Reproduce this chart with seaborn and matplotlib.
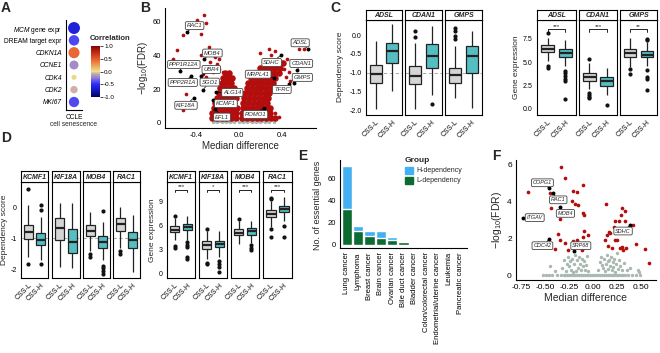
import matplotlib
matplotlib.use('Agg')
import matplotlib.pyplot as plt
import seaborn as sns
import numpy as np
import pandas as pd
from matplotlib.colors import LinearSegmentedColormap, Normalize
from matplotlib.cm import ScalarMappable
from matplotlib.patches import Patch

sns.set_theme(style='white')
plt.rcParams['font.family'] = ['Liberation Sans', 'DejaVu Sans']
plt.rcParams['mathtext.fontset'] = 'custom'
plt.rcParams['mathtext.rm'] = 'Liberation Sans'
plt.rcParams['mathtext.it'] = 'Liberation Sans:italic'

# ---------------- data ----------------
# A: CCLE cell senescence correlations
a_labels = ['$\\it{MCM}$ gene expr', 'DREAM target expr', 'CDKN1A', 'CCNE1', 'CDK4', 'CDK2', 'MKI67']
a_italic = [False, False, True, True, True, True, True]
a_corr = [-0.62, -0.42, 0.45, -0.2, 0.04, -0.08, -0.4]
a_size = [0.82, 0.62, 0.70, 0.45, 0.12, 0.30, 0.60]

# B: volcano (dependency)
b_sig_x = [-0.39, -0.32, -0.30, -0.52, -0.35, -0.57, -0.28, -0.61, -0.49, -0.52, -0.35, -0.25, -0.22,
           -0.18, -0.27, -0.20, -0.33, -0.30, -0.24, -0.22, -0.18, -0.15, 0.34, 0.20, 0.56, 0.61, 0.405,
           0.42, 0.47, 0.48, 0.37, 0.34, 0.45, 0.44, 0.30, 0.28]
b_sig_y = [61.3, 64, 59, 52, 52.5, 43, 45, 37.6, 17, 7.3, 40, 41, 39, 38, 36, 35, 29, 27, 30, 25, 32, 30,
           42.7, 41.5, 43.6, 43.6, 36, 32, 30, 24.7, 3.3, 5.7, 38, 27, 40, 44]
# dense part of the volcano, read row by row
b_cloud_y = [2.5, 5.5, 8.5, 11.5, 14.5, 17.5, 20.5, 23.5, 26.5, 29.5, 32.5, 35.5]
b_cloud_x = [
    [-0.25, -0.205, -0.16, -0.115, -0.07, -0.03, 0.03, 0.075, 0.12, 0.165, 0.21, 0.255, 0.30, 0.34],
    [-0.245, -0.2, -0.155, -0.11, -0.065, -0.025, 0.03, 0.075, 0.12, 0.165, 0.21, 0.255, 0.29],
    [-0.23, -0.185, -0.14, -0.095, -0.05, -0.02, 0.035, 0.08, 0.125, 0.17, 0.215, 0.26, 0.29],
    [-0.22, -0.175, -0.13, -0.085, -0.04, 0.04, 0.085, 0.13, 0.175, 0.22, 0.265],
    [-0.2, -0.155, -0.11, -0.065, -0.03, 0.05, 0.095, 0.14, 0.185, 0.23, 0.275],
    [-0.185, -0.14, -0.095, -0.05, 0.06, 0.105, 0.15, 0.195, 0.24, 0.285],
    [-0.17, -0.125, -0.08, -0.04, 0.075, 0.12, 0.165, 0.21, 0.255, 0.30],
    [-0.16, -0.115, -0.07, 0.09, 0.135, 0.18, 0.225, 0.27, 0.315],
    [-0.145, -0.1, -0.06, 0.115, 0.16, 0.205, 0.25, 0.295, 0.34],
    [-0.13, -0.09, 0.15, 0.195, 0.24, 0.285, 0.33, 0.37],
    [0.2, 0.245, 0.29, 0.335, 0.38],
    [0.26, 0.31, 0.36, 0.41],
]
b_ns_x = [-0.24, -0.2, -0.16, -0.12, -0.08, -0.04, 0.0, 0.04, 0.08, 0.12, 0.16, 0.2, 0.24, 0.28, 0.33,
          -0.22, -0.18, -0.14, -0.1, -0.06, 0.02, 0.06, 0.1, 0.14, 0.18, 0.22, 0.26]
b_ns_y = [0.3] * 15 + [1.0] * 12
b_genes = ['RAC1', 'MOB4', 'PPP1R12A', 'UBR4', 'PPP2R1A', 'SGO1', 'ALG14', 'KIF18A', 'KCMF1', 'EFL1',
           'ROMO1', 'MRPL41', 'SDHC', 'TFRC', 'ADSL', 'CDAN1', 'GMPS']
b_gene_x = [-0.48, -0.32, -0.55, -0.35, -0.44, -0.33, -0.21, -0.42, -0.24, -0.22, 0.23, 0.33, 0.39,
            0.47, 0.64, 0.545, 0.51]
b_gene_y = [54, 38, 30.6, 27.6, 27.6, 19.7, 18, 14.7, 13.3, 8, 8.7, 26.6, 40, 22.7, 44, 31.6, 23.6]
b_lab_x = [-0.41, -0.245, -0.51, -0.255, -0.52, -0.27, -0.06, -0.49, -0.12, -0.155, 0.155, 0.18, 0.305,
           0.40, 0.57, 0.58, 0.59]
b_lab_y = [57.7, 41.4, 34.6, 31.6, 23.9, 24.1, 17.9, 10.3, 11.3, 3.3, 4.8, 28.8, 35.8, 19.7, 47.5, 35.2, 26.9]

# C / D: box summaries: (whisker low, Q1, median, Q3, whisker high, outliers)
groups = ['CSS-L', 'CSS-H']
c_dep = {
    'ADSL': [(-1.97, -1.28, -1.05, -0.80, -0.15, []), (-1.48, -0.75, -0.43, -0.22, 0.30, [])],
    'CDAN1': [(-1.98, -1.30, -1.10, -0.83, -0.20, [0.10, -0.05]), (-1.60, -0.87, -0.55, -0.25, 0.25, [-1.85])],
    'GMPS': [(-1.68, -1.28, -1.07, -0.87, -0.30, [0.18, 0.10, -0.02, -0.10]), (-1.95, -1.00, -0.57, -0.28, 0.12, [])],
}
c_expr = {
    'ADSL': [(5.1, 6.1, 6.45, 6.85, 7.6, [8.1, 4.6, 4.35]), (4.6, 5.56, 5.95, 6.4, 7.4, [4.0, 3.8, 3.5, 3.2, 3.0, 1.1])],
    'CDAN1': [(2.1, 3.0, 3.45, 3.8, 4.86, [5.35, 1.7, 1.5, 1.3, 1.15]), (1.5, 2.5, 3.0, 3.4, 4.4, [0.45])],
    'GMPS': [(4.5, 5.6, 6.0, 6.4, 7.55, [4.25, 3.7]), (4.55, 5.53, 5.8, 6.2, 7.15, [7.5, 7.35, 4.2, 3.4, 3.2, 2.0])],
}
c_stars = ['***', '***', '**']
d_dep = {
    'KCMF1': [(-1.6, -1.02, -0.78, -0.56, 0.09, [0.61, -1.82]), (-1.7, -1.22, -1.05, -0.83, -0.29, [0.1, -0.08, -1.83])],
    'KIF18A': [(-1.92, -1.05, -0.67, -0.35, 0.14, []), (-1.97, -1.46, -1.11, -0.70, 0.15, [])],
    'MOB4': [(-1.41, -0.91, -0.76, -0.56, -0.13, [-1.52, -1.6]), (-1.71, -1.30, -1.11, -0.91, -0.46, [-0.11, -1.9, -1.97, -2.05, -2.17])],
    'RAC1': [(-1.32, -0.76, -0.54, -0.35, 0.03, [-1.42, -1.51]), (-2.08, -1.32, -1.05, -0.80, -0.24, [])],
}
d_expr = {
    'KCMF1': [(4.2, 5.2, 5.45, 5.9, 6.9, [7.2, 3.4, 3.2]), (4.2, 5.37, 5.83, 6.2, 7.2, [3.9, 3.6, 3.3, 2.0, 1.8])],
    'KIF18A': [(1.8, 3.1, 3.55, 4.0, 5.3, [5.6, 1.3, 1.1]), (2.0, 3.25, 3.65, 4.1, 5.3, [1.5, 1.1, 0.8, 0.1])],
    'MOB4': [(3.7, 4.77, 5.05, 5.55, 6.5, [6.8, 6.6]), (3.8, 4.86, 5.25, 5.7, 6.5, [3.5, 3.2, 2.9])],
    'RAC1': [(5.8, 7.05, 7.45, 7.9, 9.1, [9.45, 9.3, 5.5, 4.55]), (6.55, 7.7, 8.1, 8.5, 9.6, [5.9, 4.6])],
}
d_stars = ['***', '*', '***', '***']

# E: essential genes per cancer type
e_cancers = ['Lung cancer', 'Lymphoma', 'Breast cancer', 'Brain cancer', 'Ovarian cancer', 'Bile duct cancer',
             'Bladder cancer', 'Colon/colorectal cancer', 'Endometrial/uterine cancer', 'Leukemia', 'Pancreatic cancer']
e_h = [39, 5, 4, 6, 3, 0, 1, 1, 0, 0, 1]
e_l = [32, 12, 8, 6, 4, 2, 0, 0, 1, 1, 0]

# F: volcano (expression)
f_sig_x = [-0.34, -0.295, -0.68, -0.45, -0.11, -0.21, -0.17, -0.44, -0.19, -0.16, -0.225, -0.11, -0.10,
           -0.35, -0.365, -0.35, -0.21, -0.17, -0.10, -0.06, -0.11, -0.40, -0.295, -0.26, -0.12, -0.09,
           0.13, 0.30, 0.33, 0.29, 0.225, 0.27, 0.33, 0.215, 0.415, 0.16, 0.175, 0.14, 0.12, 0.225, 0.25,
           0.445, 0.155, 0.19, 0.28, 0.31, 0.34, 0.30, 0.54, 0.575]
f_sig_y = [5.87, 5.27, 4.51, 4.49, 4.91, 4.6, 4.51, 3.67, 3.87, 3.84, 4.05, 3.36, 3.27, 3.04, 2.24, 1.91,
           1.87, 1.91, 2.42, 2.18, 2.09, 1.40, 1.76, 1.36, 1.36, 1.73, 3.87, 3.64, 3.51, 3.27, 2.95, 2.93,
           2.93, 2.64, 2.71, 2.36, 2.27, 2.18, 1.91, 1.91, 1.91, 1.69, 1.58, 1.45, 1.49, 1.36, 1.49, 1.55,
           1.40, 0.67]
f_ns_x = [-0.33, -0.3, -0.28, -0.26, -0.25, -0.23, -0.22, -0.2, -0.19, -0.18, -0.17, -0.16, -0.15, -0.14,
          -0.13, -0.12, -0.11, -0.1, -0.09, -0.08, -0.07, -0.06, -0.21, -0.27, -0.24, -0.4, -0.45,
          0.05, 0.07, 0.08, 0.1, 0.11, 0.12, 0.13, 0.14, 0.15, 0.16, 0.17, 0.18, 0.19, 0.2, 0.21, 0.22,
          0.23, 0.24, 0.25, 0.26, 0.27, 0.28, 0.3, 0.32, 0.35, 0.38, 0.47, 0.48, 0.09, 0.15]
f_ns_y = [0.4, 0.8, 0.2, 1.0, 0.5, 0.3, 0.9, 0.6, 1.1, 0.2, 0.8, 0.4, 1.0, 0.6, 0.25, 0.9, 0.5, 0.75,
          0.3, 0.55, 1.05, 0.2, 0.15, 0.6, 0.75, 0.2, 0.5,
          0.3, 0.7, 1.0, 0.4, 0.9, 0.2, 0.6, 1.1, 0.35, 0.8, 0.5, 1.0, 0.25, 0.7, 0.45, 0.9, 0.15, 0.6,
          1.2, 0.35, 0.8, 0.5, 0.25, 0.65, 0.3, 0.4, 0.3, 0.15, 0.55, 0.75]
f_zero_x = [-0.52, -0.49, -0.46, -0.43, -0.38, -0.34, -0.31, -0.29, -0.27, -0.25, -0.23, -0.21, -0.19,
            -0.17, -0.15, -0.13, -0.11, -0.09, -0.07, -0.05, -0.03, -0.01, 0.01, 0.03, 0.05, 0.07, 0.09,
            0.11, 0.13, 0.15, 0.17, 0.19, 0.21, 0.23, 0.25, 0.27, 0.29, 0.31, 0.33, 0.36, 0.40, 0.44, 0.49]
f_genes = ['COPG1', 'RAC1', 'MOB4', 'ITGAV', 'CDC42', 'SRP68', 'SDHC']
f_gene_x = [-0.46, -0.42, -0.35, -0.735, -0.46, -0.20, 0.38]
f_gene_y = [4.73, 4.46, 3.73, 3.09, 1.95, 1.29, 2.71]
f_lab_x = [-0.53, -0.365, -0.29, -0.61, -0.53, -0.13, 0.31]
f_lab_y = [5.03, 4.1, 3.36, 3.13, 1.6, 1.6, 2.4]

# ---------------- style ----------------
RED = '#b30d0d'
GREY_PT = '#a9b9b2'
BOX_L = '#d5d5d5'
BOX_H = '#41cfd6'
H_BLUE = '#44b0f2'
L_GREEN = '#0b6b30'
W, H = 660, 353
TICK = 5
fig = plt.figure(figsize=(6.6, 3.53), dpi=100)


def box(l, t, r, b):
    return fig.add_axes([l / W, 1 - b / H, (r - l) / W, (b - t) / H])


def ftext(x, y, s, **kw):
    fig.text(x / W, 1 - y / H, s, **kw)


def frame(ax, lw=0.8):
    for sp in ax.spines.values():
        sp.set_visible(True)
        sp.set_color('black')
        sp.set_linewidth(lw)
    ax.tick_params(length=2, width=0.6, pad=1, labelsize=TICK, colors='black')


def expand(lo, q1, med, q3, hi, out):
    # sample whose box statistics reproduce the values
    return list(out) + [lo] + [q1] * 20 + [med] * 9 + [q3] * 20 + [hi]


def facets(stats, xs, top, bottom, strip_h, ylim, yticks, ylabs, dash=None, stars=None, star_y=None):
    for i, (gene, (l, r)) in enumerate(zip(stats, xs)):
        ax = box(l, top, r, bottom)
        rows = [(g, v) for g, s in zip(groups, stats[gene]) for v in expand(*s)]
        df = pd.DataFrame(rows, columns=['group', 'value'])
        if dash is not None:
            ax.axhline(dash, color='#9a9a9a', ls=(0, (4, 3)), lw=0.6, zorder=0)
        sns.boxplot(data=df, x='group', y='value', hue='group', order=groups, hue_order=groups,
                    palette=[BOX_L, BOX_H], width=0.72, linewidth=0.9, linecolor='#222222',
                    showcaps=False, fliersize=2.0, legend=False,
                    flierprops={'marker': 'o', 'markerfacecolor': '#111111', 'markeredgecolor': '#111111'},
                    medianprops={'linewidth': 1.6}, ax=ax)
        frame(ax)
        ax.set_ylim(*ylim)
        ax.set_xlim(-0.6, 1.6)
        ax.set_xlabel('')
        ax.set_ylabel('')
        ax.set_yticks(yticks)
        if i == 0:
            ax.set_yticklabels(ylabs)
        else:
            ax.set_yticklabels([])
            ax.tick_params(axis='y', length=0)
        ax.set_xticks([0, 1])
        ax.set_xticklabels(groups, rotation=45, ha='right', rotation_mode='anchor', fontsize=TICK)
        if stars is not None:
            d = (ylim[1] - ylim[0]) * 0.025
            ax.plot([0, 0, 1, 1], [star_y - d, star_y, star_y, star_y - d], color='black', lw=0.6)
            ax.text(0.5, star_y + d * 0.3, stars[i], ha='center', va='bottom', fontsize=4.5)
        st = box(l, top - strip_h, r, top)
        st.set_xticks([])
        st.set_yticks([])
        frame(st)
        st.set_facecolor('white')
        st.text(0.5, 0.45, gene, ha='center', va='center', fontsize=5, style='italic',
                weight='bold', transform=st.transAxes)


def label_genes(ax, names, gx, gy, lx, ly, fs):
    for n, x0, y0, x1, y1 in zip(names, gx, gy, lx, ly):
        ax.annotate(n, xy=(x0, y0), xytext=(x1, y1), fontsize=fs, style='italic', ha='center',
                    va='center', zorder=6,
                    bbox=dict(boxstyle='round,pad=0.25', fc='white', ec='#444444', lw=0.6),
                    arrowprops=dict(arrowstyle='-', color='black', lw=0.5, shrinkA=0, shrinkB=1))


# ---------------- A ----------------
axA = box(66, 20, 82, 110)
cmap = LinearSegmentedColormap.from_list('corr', [
    (0.0, '#000066'), (0.25, '#2b2bff'), (0.375, '#8e7fd6'), (0.45, '#c6a6b0'),
    (0.5, '#ece38a'), (0.75, '#e85a28'), (1.0, '#8b0000')])
dfA = pd.DataFrame({'x': ['CCLE'] * len(a_labels), 'row': range(len(a_labels)),
                    'corr': a_corr, 'size': a_size})
sns.scatterplot(data=dfA, x='x', y='row', hue='corr', size='size', palette=cmap, hue_norm=(-1, 1),
                sizes=(13, 74), size_norm=(0.12, 0.82), legend=False, linewidth=0, ax=axA)
axA.set_ylim(6.65, -0.65)
axA.set_yticks(range(len(a_labels)))
axA.set_yticklabels(a_labels)
for t, it in zip(axA.get_yticklabels(), a_italic):
    if it:
        t.set_style('italic')
axA.set_xticks([0])
axA.set_xticklabels(['CCLE'])
axA.set_xlabel('cell senescence', fontsize=4.8, labelpad=0)
axA.set_ylabel('')
for s in ['top', 'right']:
    axA.spines[s].set_visible(False)
for s in ['left', 'bottom']:
    axA.spines[s].set_color('black')
    axA.spines[s].set_linewidth(0.8)
axA.tick_params(length=2, width=0.6, pad=1, labelsize=4.8, colors='black')

cax = box(91, 46, 100, 97)
cb = fig.colorbar(ScalarMappable(Normalize(-1, 1), cmap), cax=cax)
cb.outline.set_visible(False)
cb.set_ticks([1.0, 0.5, 0.0, -0.5, -1.0])
cb.set_ticklabels(['1.0', '0.5', '0.0', '-0.5', '-1.0'])
cax.tick_params(length=2, width=0.5, pad=1, labelsize=4.5, colors='black')
ftext(90, 38, 'Correlation', fontsize=5.5, weight='bold', va='center')

# ---------------- B ----------------
axB = box(165, 8, 316, 128)
cx = [x for xs in b_cloud_x for x in xs]
cy = [y for y, xs in zip(b_cloud_y, b_cloud_x) for _ in xs]
sns.scatterplot(x=b_ns_x, y=b_ns_y, color=GREY_PT, s=6, linewidth=0, ax=axB)
sns.scatterplot(x=cx, y=cy, color=RED, s=22, linewidth=0, ax=axB)
sns.scatterplot(x=b_sig_x, y=b_sig_y, color=RED, s=7, linewidth=0, ax=axB)
sns.scatterplot(x=b_gene_x, y=b_gene_y, color='black', s=8, linewidth=0, ax=axB, zorder=5)
label_genes(axB, b_genes, b_gene_x, b_gene_y, b_lab_x, b_lab_y, 4.2)
axB.set_xlim(-0.685, 0.717)
axB.set_ylim(-3.2, 68.2)
axB.set_xticks([-0.4, 0.0, 0.4])
axB.set_xticklabels(['-0.4', '0.0', '0.4'])
axB.set_yticks([0, 20, 40, 60])
for s in ['top', 'right']:
    axB.spines[s].set_visible(False)
for s in ['left', 'bottom']:
    axB.spines[s].set_color('black')
    axB.spines[s].set_linewidth(0.8)
axB.tick_params(length=2, width=0.6, pad=1, labelsize=5.5, colors='black')
axB.set_xlabel('Median difference', fontsize=7, labelpad=1)
axB.set_ylabel('−log$_{10}$(FDR)', fontsize=7, labelpad=2)

# ---------------- C ----------------
facets(c_dep, [(366, 402), (405, 442), (445, 482)], 20, 115, 10, (-2.13, 0.4),
       [0.0, -0.5, -1.0, -1.5, -2.0], ['0.0', '-0.5', '-1.0', '-1.5', '-2.0'], dash=-1.0)
facets(c_expr, [(537, 576), (579, 617), (620, 657)], 20, 115, 10, (-0.65, 9.5),
       [0.0, 2.5, 5.0, 7.5], ['0.0', '2.5', '5.0', '7.5'], stars=c_stars, star_y=8.5)
ftext(340, 67, 'Dependency score', fontsize=6, rotation=90, ha='center', va='center')
ftext(516, 67, 'Gene expression', fontsize=6, rotation=90, ha='center', va='center')

# ---------------- D ----------------
facets(d_dep, [(21, 48), (52, 80), (83, 110), (113, 140)], 182, 278, 11, (-2.29, 0.84),
       [0, -1, -2], ['0', '-1', '-2'], dash=-1.0)
facets(d_expr, [(167, 195), (199, 227), (231, 259), (263, 292)], 182, 278, 11, (-0.6, 11.45),
       [0, 3, 6, 9], ['0', '3', '6', '9'], stars=d_stars, star_y=10.5)
ftext(5, 230, 'Dependency score', fontsize=6, rotation=90, ha='center', va='center')
ftext(153, 230, 'Gene expression', fontsize=6, rotation=90, ha='center', va='center')

# ---------------- E ----------------
axE = box(340, 160, 467, 248)
e_tot = [h + l for h, l in zip(e_h, e_l)]
sns.barplot(x=e_cancers, y=e_tot, color=H_BLUE, width=0.92, saturation=1, ax=axE)
sns.barplot(x=e_cancers, y=e_l, color=L_GREEN, width=0.92, saturation=1, ax=axE)
axE.set_ylim(-3.05, 76.6)
axE.set_xlim(-0.6, 10.6)
axE.set_yticks([0, 20, 40, 60])
for s in ['top', 'right']:
    axE.spines[s].set_visible(False)
for s in ['left', 'bottom']:
    axE.spines[s].set_color('black')
    axE.spines[s].set_linewidth(0.8)
axE.tick_params(length=2, width=0.6, pad=1, labelsize=5.5, colors='black')
axE.tick_params(axis='x', labelrotation=90)
axE.set_ylabel('')
ftext(318, 205, 'No. of essential genes', fontsize=6.5, rotation=90, ha='center', va='center')
axE.legend(handles=[Patch(color=H_BLUE, label='H-dependency'), Patch(color=L_GREEN, label='L-dependency')],
           title='Group', loc='upper left', bbox_to_anchor=(0.49, 1.06), frameon=False, fontsize=5,
           title_fontproperties={'size': 6, 'weight': 'bold'}, handlelength=1.2, handleheight=1.2,
           alignment='left', borderaxespad=0, labelspacing=0.3, handletextpad=0.4)

# ---------------- F ----------------
axF = box(516, 160, 656, 280)
sns.scatterplot(x=f_zero_x, y=[0] * len(f_zero_x), color=GREY_PT, s=6, linewidth=0, ax=axF)
sns.scatterplot(x=f_ns_x, y=f_ns_y, color=GREY_PT, s=6, linewidth=0, ax=axF)
sns.scatterplot(x=f_sig_x, y=f_sig_y, color=RED, s=7, linewidth=0, ax=axF)
sns.scatterplot(x=f_gene_x, y=f_gene_y, color='black', s=8, linewidth=0, ax=axF, zorder=5)
label_genes(axF, f_genes, f_gene_x, f_gene_y, f_lab_x, f_lab_y, 4.0)
axF.set_xlim(-0.805, 0.653)
axF.set_ylim(-0.27, 6.27)
axF.set_xticks([-0.75, -0.5, -0.25, 0.0, 0.25, 0.5])
axF.set_xticklabels(['-0.75', '-0.50', '-0.25', '0.00', '0.25', '0.50'])
axF.set_yticks([0, 2, 4, 6])
for s in ['top', 'right']:
    axF.spines[s].set_visible(False)
for s in ['left', 'bottom']:
    axF.spines[s].set_color('black')
    axF.spines[s].set_linewidth(0.8)
axF.tick_params(length=2, width=0.6, pad=1, labelsize=6, colors='black')
axF.set_xlabel('Median difference', fontsize=7.5, labelpad=1)
axF.set_ylabel('−log$_{10}$(FDR)', fontsize=7.5, labelpad=2)

# ---------------- panel letters ----------------
for x, y, s in [(1, 1, 'A'), (140, 1, 'B'), (330, 1, 'C'), (1, 131, 'D'), (298, 149, 'E'), (492, 149, 'F')]:
    ftext(x, y, s, fontsize=10, weight='bold', va='top', ha='left')

fig.savefig('out.png', dpi=100)
